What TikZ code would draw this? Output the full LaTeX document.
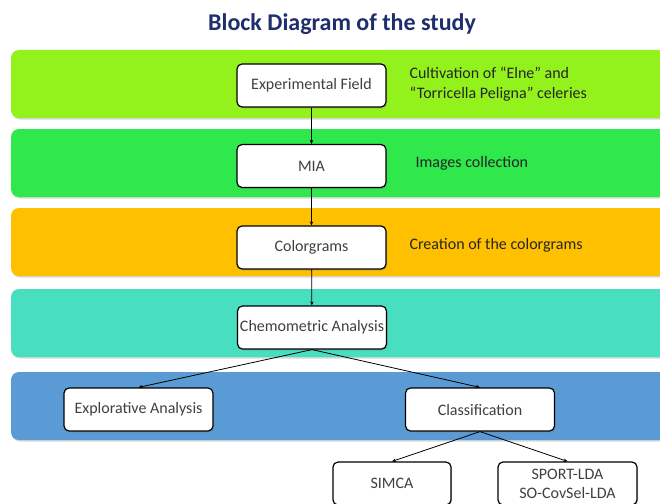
\documentclass[tikz,border=0pt]{standalone}
\usepackage{fontspec}
\setmainfont{Carlito}
\usetikzlibrary{arrows.meta,shadows}

\definecolor{titleblue}{RGB}{31,46,108}
\definecolor{bandlime}{RGB}{147,242,27}
\definecolor{bandgreen}{RGB}{46,232,76}
\definecolor{bandorange}{RGB}{255,192,0}
\definecolor{bandteal}{RGB}{72,223,193}
\definecolor{bandblue}{RGB}{91,155,213}
\definecolor{boxtext}{RGB}{64,64,64}

\tikzset{
    band/.style={rounded corners=8pt,
        drop shadow={shadow xshift=1pt,shadow yshift=-1.5pt,opacity=0.3}},
    note/.style={anchor=west,align=left,text=black!85,
        font=\fontsize{16}{20}\selectfont}
}

\begin{document}
\begin{tikzpicture}[x=1pt,y=-1pt]
        \clip (0,0) rectangle (660,503);
        \fill[white] (0,0) rectangle (660,503);
        \node (title) at (342,24) {\fontsize{24}{28}\selectfont\bfseries\color{titleblue}Block Diagram of the study};
        % coloured stages
        \fill[band,fill=bandlime] (11,50) rectangle (690,118);
        \fill[band,fill=bandgreen] (11,129) rectangle (690,197);
        \fill[band,fill=bandorange] (11,208) rectangle (690,276);
        \fill[band,fill=bandteal] (11,289) rectangle (690,357);
        \fill[band,fill=bandblue] (11,372) rectangle (690,440);
        \begin{scope}[every node/.style={draw,rounded corners=5pt,fill=white,line width=1.2pt,
                minimum width=149pt,minimum height=43pt,text=boxtext,align=center,
                font=\fontsize{16}{19}\selectfont,inner sep=2pt,
                drop shadow={shadow xshift=1pt,shadow yshift=-1.5pt,opacity=0.35}}]
            \node (1) at (311.5,85.5) {Experimental Field};
            \node (2) at (311.5,166) {MIA};
            \node (3) at (311.5,247.5) {Colorgrams};
            \node (4) at (312,327.5) {Chemometric Analysis};
            \node (5) at (138.5,409.5) {Explorative Analysis};
            \node (6) at (480,409.5) {Classification};
            \node[minimum width=118pt] (7) at (392,483.5) {SIMCA};
            \node[minimum width=139pt] (8) at (567.5,483.5) {SPORT-LDA\\SO-CovSel-LDA};
        \end{scope}
        \node[note] (t1) at (406,84) {Cultivation of “Elne” and\\“Torricella Peligna” celeries};
        \node[note] (t2) at (412,163) {Images collection};
        \node[note] (t3) at (406,245) {Creation of the colorgrams};
        \begin{scope}[every edge/.style={draw,line width=0.8pt,-{Stealth[length=4pt,width=3.5pt]}}]
            \path
                (1) edge (2)
                (2) edge (3)
                (3) edge (4)
                (4.south) edge (5.north)
                (4.south) edge (6.north)
                (6.south) edge (7.north)
                (6.south) edge (8.north);
        \end{scope}
    \end{tikzpicture}
\end{document}
